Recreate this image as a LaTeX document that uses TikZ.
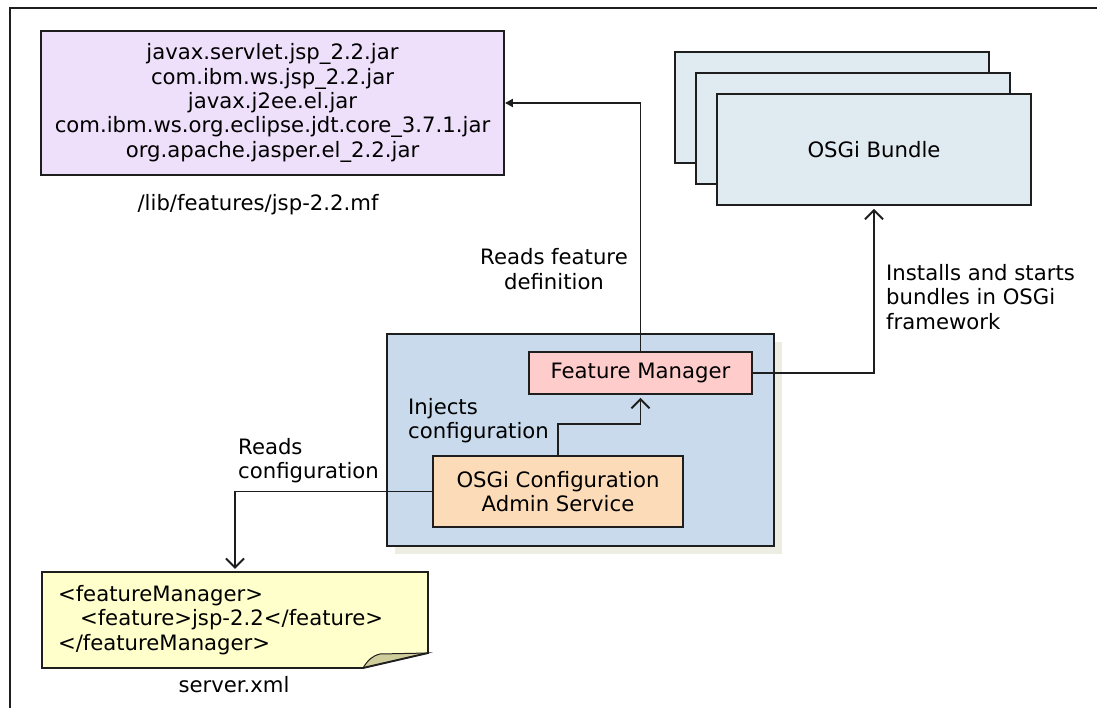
\documentclass[tikz,border=0pt]{standalone}
\usepackage{fontspec}
\setmainfont{DejaVu Sans}
\usetikzlibrary{arrows.meta,shadows}

\definecolor{linegray}{HTML}{1E1E1E}
\definecolor{jarfill}{HTML}{EEE0FA}
\definecolor{bundlefill}{HTML}{E0EAF1}
\definecolor{kernelfill}{HTML}{C8DAEC}
\definecolor{shadowgray}{HTML}{EDEDE3}
\definecolor{fmfill}{HTML}{FFCCCC}
\definecolor{ocafill}{HTML}{FCDBB9}
\definecolor{notefill}{HTML}{FFFFCC}
\definecolor{foldfill}{HTML}{CFCD9B}

\begin{document}
\begin{tikzpicture}[
    x=1pt, y=-1pt,
    every node/.style={
        inner sep=0pt,
        font=\fontsize{21.2}{24.3}\selectfont
    },
    box/.style={
        draw=linegray,
        line width=1.9pt,
        align=center
    },
    lbl/.style={align=left, anchor=west},
    arrow/.style={-{Straight Barb[length=9pt,width=18pt]}, line width=1.9pt, linegray, shorten >=3pt},
    farrow/.style={-{Triangle[length=8pt,width=8pt]}, line width=1.9pt, linegray}
]
\useasboundingbox (0,0) rectangle (1101,708);

% Page frame — top and left edges only
\draw[line width=1.6pt, linegray] (10,708) -- (10,8) -- (1097,8);

% Feature definition file
\node[box, fill=jarfill, minimum width=463pt, minimum height=144pt] (jars) at (272.5,103)
    {javax.servlet.jsp\_2.2.jar\\com.ibm.ws.jsp\_2.2.jar\\javax.j2ee.el.jar\\com.ibm.ws.org.eclipse.jdt.core\_3.7.1.jar\\org.apache.jasper.el\_2.2.jar};
\node (jarslabel) at (258,205) {/lib/features/jsp-2.2.mf};

% Stack of bundles (back to front)
\node[box, fill=bundlefill, minimum width=314pt, minimum height=111pt] (bundle3) at (832,107.5) {};
\node[box, fill=bundlefill, minimum width=314pt, minimum height=111pt] (bundle2) at (853,128.5) {};
\node[box, fill=bundlefill, minimum width=314pt, minimum height=111pt] (bundle1) at (874,149.5) {OSGi Bundle};

% Kernel container + its two services
\node[box, fill=kernelfill, minimum width=387pt, minimum height=212pt,
      drop shadow={shadow xshift=8pt, shadow yshift=-8pt, fill=shadowgray, opacity=1}] (kernel) at (580.5,440) {};
\node[box, fill=fmfill,  minimum width=223pt, minimum height=42pt] (fm)  at (640.5,373) {Feature Manager};
\node[box, fill=ocafill, minimum width=250pt, minimum height=71pt] (oca) at (558,491.5) {OSGi Configuration\\Admin Service};

% server.xml note with folded corner
\fill[notefill] (42,572) -- (428,572) -- (428,653) -- (363,668) -- (42,668) -- cycle;
\filldraw[foldfill, draw=linegray, line width=1pt] (363,668) .. controls (368,660) and (372,656) .. (380,654) -- (428,653) -- cycle;
\draw[line width=1.9pt, linegray] (42,572) -- (428,572) -- (428,653) -- (363,668) -- (42,668) -- cycle;
\node[minimum width=386pt, minimum height=96pt, text width=354pt, inner xsep=16pt, align=left] (note) at (235,620)
    {<featureManager>\\\hspace*{22pt}<feature>jsp-2.2</feature>\\</featureManager>};
\node (serverlabel) at (234,685) {server.xml};

% Connector labels
\node[align=center] (readsdef) at (554,269) {Reads feature\\definition};
\node[lbl] (installs) at (886,297) {Installs and starts\\bundles in OSGi\\framework};
\node[lbl] (injects)  at (408,421) {Injects\\configuration};
\node[lbl] (readscfg) at (238,461) {Reads\\configuration};

% Connectors
\draw[farrow] (fm.north) |- (jars.east);
\draw[arrow]  (fm.east) -| (bundle1.south);
\draw[arrow]  (oca.north) -- ++(0,-31) -| (fm.south);
\draw[arrow]  (oca.west) -| (note.north);

\end{tikzpicture}
\end{document}
